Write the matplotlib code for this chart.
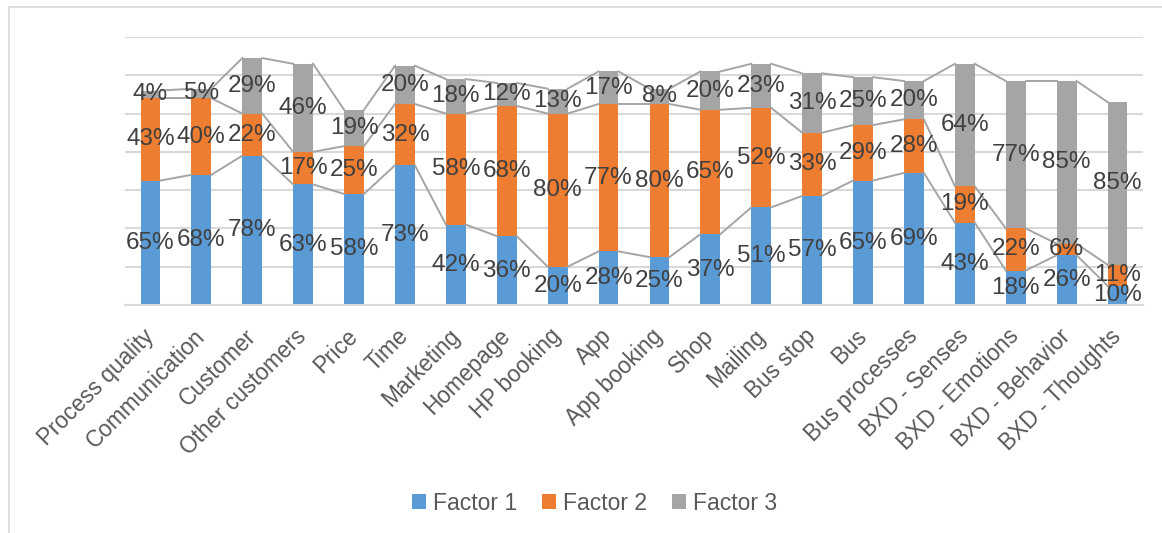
import numpy as np
import matplotlib.pyplot as plt
from matplotlib.patches import Rectangle

plt.rcParams['font.family'] = ['Liberation Sans', 'DejaVu Sans']

categories = ['Process quality', 'Communication', 'Customer', 'Other customers', 'Price',
              'Time', 'Marketing', 'Homepage', 'HP booking', 'App', 'App booking', 'Shop',
              'Mailing', 'Bus stop', 'Bus', 'Bus processes', 'BXD - Senses',
              'BXD - Emotions', 'BXD - Behavior', 'BXD - Thoughts']
factor1 = [65, 68, 78, 63, 58, 73, 42, 36, 20, 28, 25, 37, 51, 57, 65, 69, 43, 18, 26, 10]
factor2 = [43, 40, 22, 17, 25, 32, 58, 68, 80, 77, 80, 65, 52, 33, 29, 28, 19, 22, 6, 11]
factor3 = [4, 5, 29, 46, 19, 20, 18, 12, 13, 17, 8, 20, 23, 31, 25, 20, 64, 77, 85, 85]

series = [('Factor 1', factor1, '#5B9BD5'),
          ('Factor 2', factor2, '#ED7D31'),
          ('Factor 3', factor3, '#A5A5A5')]

fig = plt.figure(figsize=(11.62, 5.33), dpi=100)
# outer chart frame
fig.patches.append(Rectangle((9 / 1162, -0.1), 1.2, 1.1 - 7 / 533, transform=fig.transFigure,
                             fill=False, edgecolor='#d9d9d9', linewidth=1.2))

ax = fig.add_axes([125 / 1162, 228 / 533, 1018 / 1162, 268 / 533])
x = np.arange(len(categories))
width = 0.39
bottom = np.zeros(len(categories))

for name, vals, color in series:
    vals = np.array(vals, dtype=float)
    ax.bar(x, vals, width, bottom=bottom, color=color, label=name, zorder=2)
    top = bottom + vals
    # series lines between neighbouring bars
    for i in range(len(x) - 1):
        ax.plot([x[i] + width / 2, x[i + 1] - width / 2], [top[i], top[i + 1]],
                color='#a5a5a5', linewidth=1.4, zorder=3)
    for xi, b, v in zip(x, bottom, vals):
        ax.text(xi, b + v / 2, f'{int(v)}%', ha='center', va='center',
                fontsize=17.5, color='#404040', zorder=5)
    bottom = top

ax.set_xlim(-0.5, len(categories) - 0.5)
ax.set_ylim(0, 140)
ax.set_yticks(np.arange(0, 141, 20))
ax.yaxis.grid(True, color='#d9d9d9', linewidth=1.5, zorder=0)
ax.set_axisbelow(True)
ax.tick_params(axis='y', left=False, labelleft=False)
ax.tick_params(axis='x', length=0, pad=20)
for s in ['top', 'right', 'left']:
    ax.spines[s].set_visible(False)
ax.spines['bottom'].set_color('#d9d9d9')
ax.spines['bottom'].set_linewidth(1.5)

ax.set_xticks(x)
ax.set_xticklabels(categories, rotation=45, ha='right', va='center', rotation_mode='anchor',
                   fontsize=16.3, color='#595959')

leg = fig.legend(loc='center', bbox_to_anchor=(594.5 / 1162, 1 - 503 / 533), ncol=3,
                 frameon=False, fontsize=16.5, handlelength=0.6, handleheight=0.6,
                 handletextpad=0.3, columnspacing=1.1)
for t in leg.get_texts():
    t.set_color('#595959')

fig.savefig('out.png', dpi=100)
